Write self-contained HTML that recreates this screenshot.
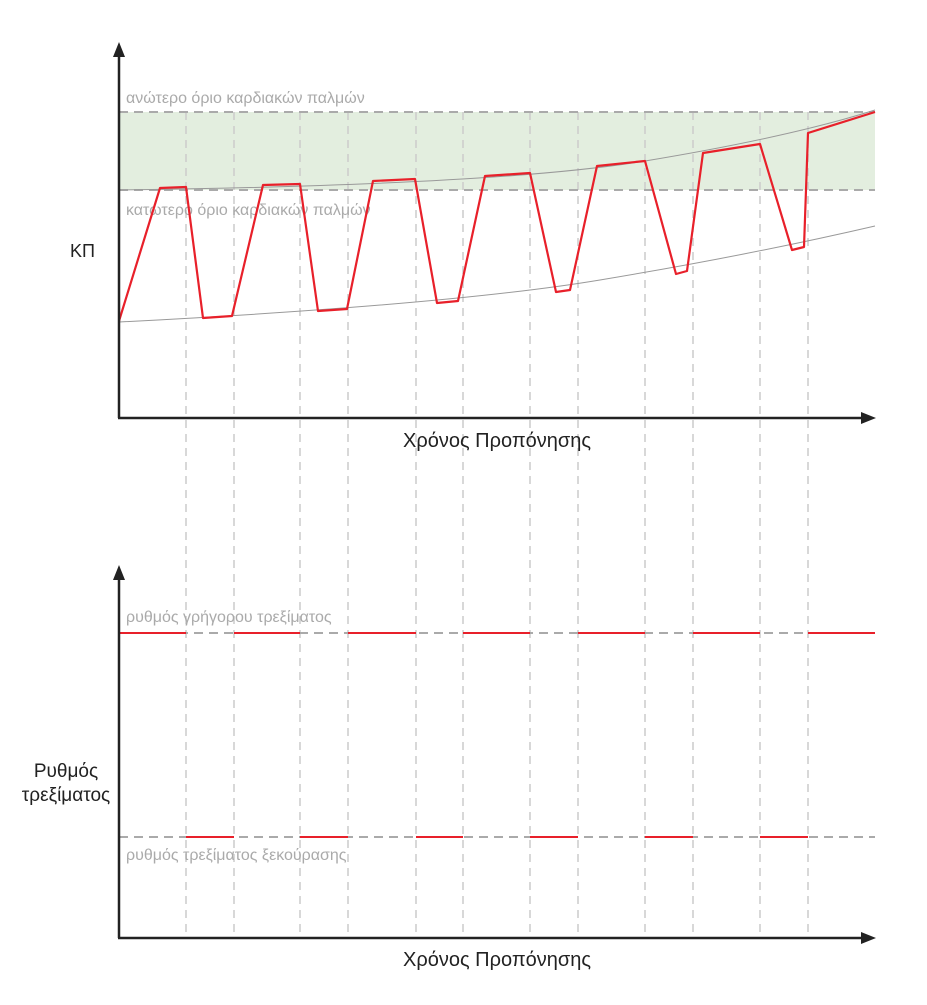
<!DOCTYPE html>
<html><head><meta charset="utf-8"><style>body{margin:0;background:#fff}svg{display:block}</style></head><body>
<svg width="927" height="1005" viewBox="0 0 927 1005" xmlns="http://www.w3.org/2000/svg" font-family="Liberation Sans, DejaVu Sans, sans-serif">
<rect x="119" y="112" width="756" height="78" fill="#e3eedf"/>
<g stroke="#cccccc" stroke-width="1.5" stroke-dasharray="8,6">
<line x1="186" y1="112" x2="186" y2="938"/><line x1="234" y1="112" x2="234" y2="938"/>
<line x1="300" y1="112" x2="300" y2="938"/><line x1="348" y1="112" x2="348" y2="938"/>
<line x1="416" y1="112" x2="416" y2="938"/><line x1="463" y1="112" x2="463" y2="938"/>
<line x1="530" y1="112" x2="530" y2="938"/><line x1="578" y1="112" x2="578" y2="938"/>
<line x1="645" y1="112" x2="645" y2="938"/><line x1="693" y1="112" x2="693" y2="938"/>
<line x1="760" y1="112" x2="760" y2="938"/><line x1="808" y1="112" x2="808" y2="938"/>
</g>
<g stroke="#aaa" stroke-width="2" stroke-dasharray="9,6">
<line x1="119" y1="112" x2="875" y2="112"/><line x1="119" y1="190" x2="875" y2="190"/>
<line x1="119" y1="633" x2="875" y2="633"/><line x1="119" y1="837" x2="875" y2="837"/>
</g>
<path d="M119,190 Q500,185 645,161 T875,110" fill="none" stroke="#999" stroke-width="1"/>
<path d="M119,322 Q450,305 600,280 T875,226" fill="none" stroke="#999" stroke-width="1"/>
<g fill="#aaa" font-size="16">
<text x="126" y="103">ανώτερο όριο καρδιακών παλμών</text>
<text x="126" y="215">κατωτερο όριο καρδιακών παλμών</text>
<text x="126" y="622">ρυθμός γρήγορου τρεξίματος</text>
<text x="126" y="860">ρυθμός τρεξίματος ξεκούρασης</text>
</g>
<polyline fill="none" stroke="#e8202a" stroke-width="2.2" stroke-linejoin="round" points="119,321 160,188 186,187 203,318 232,316 263,185 300,184 318,311 347,309 373,181 415,179 437,303 458,301 485,176 530,173 556,292 570,290 597,166 645,161 676,274 687,271 703,153 760,144 792,250 804,247 808,133 875,112"/>
<g stroke="#e8202a" stroke-width="2">
<line x1="119" y1="633" x2="186" y2="633"/><line x1="234" y1="633" x2="300" y2="633"/><line x1="348" y1="633" x2="416" y2="633"/><line x1="463" y1="633" x2="530" y2="633"/><line x1="578" y1="633" x2="645" y2="633"/><line x1="693" y1="633" x2="760" y2="633"/><line x1="808" y1="633" x2="875" y2="633"/>
<line x1="186" y1="837" x2="234" y2="837"/><line x1="300" y1="837" x2="348" y2="837"/><line x1="416" y1="837" x2="463" y2="837"/><line x1="530" y1="837" x2="578" y2="837"/><line x1="645" y1="837" x2="693" y2="837"/><line x1="760" y1="837" x2="808" y2="837"/>
</g>
<g stroke="#222" stroke-width="2.5" fill="none">
<line x1="119" y1="418" x2="119" y2="52"/><line x1="118" y1="418" x2="866" y2="418"/>
<line x1="119" y1="938" x2="119" y2="575"/><line x1="118" y1="938" x2="866" y2="938"/>
</g>
<g fill="#222">
<polygon points="119,42 113,57 125,57"/><polygon points="876,418 861,412 861,424"/>
<polygon points="119,565 113,580 125,580"/><polygon points="876,938 861,932 861,944"/>
</g>
<g fill="#222" font-size="20">
<text x="70" y="257" font-size="18">ΚΠ</text>
<text x="497" y="447" text-anchor="middle">Χρόνος Προπόνησης</text>
<text x="497" y="966" text-anchor="middle">Χρόνος Προπόνησης</text>
<text x="66" y="777" text-anchor="middle" font-size="19">Ρυθμός</text>
<text x="66" y="801" text-anchor="middle" font-size="19">τρεξίματος</text>
</g>
</svg>
</body></html>
